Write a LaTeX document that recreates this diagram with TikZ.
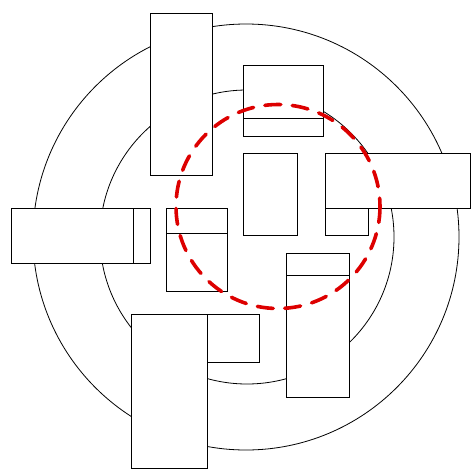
\documentclass[tikz,border=0pt]{standalone}
\definecolor{dashred}{RGB}{221,0,0}
\begin{document}
\begin{tikzpicture}[x=1pt,y=-1pt,
  ring/.style={draw=black,line width=0.8pt},
  box/.style={draw=black,fill=white,line width=0.9pt},
  divider/.style={draw=black,line width=0.9pt},
  redring/.style={draw=dashred,line width=3.6pt,line cap=round,dash pattern=on 16pt off 11.5pt}]
\useasboundingbox[fill=white] (0,0) rectangle (471,469);
% circles
\draw[ring] (246,237) circle[radius=213];
\draw[ring] (247,237) circle[radius=147];
% rectangles
\draw[box] (150,13) rectangle (212,175);
\draw[box] (243,65) rectangle (323,136);
\draw[divider] (243,118) -- (323,118);
\draw[box] (243,153) rectangle (297,235);
\draw[box] (325,208) rectangle (368,235);
\draw[box] (325,153) rectangle (470,208);
\draw[box] (11,208) rectangle (150,263);
\draw[divider] (133,208) -- (133,263);
\draw[box] (166,208) rectangle (227,291);
\draw[divider] (166,233) -- (227,233);
\draw[box] (286,253) rectangle (349,397);
\draw[divider] (286,275) -- (349,275);
\draw[box] (207,314) rectangle (259,362);
\draw[box] (131,314) rectangle (207,468);
% red dashed circle
\draw[redring] (278,206.5) circle[radius=102];
\end{tikzpicture}
\end{document}
